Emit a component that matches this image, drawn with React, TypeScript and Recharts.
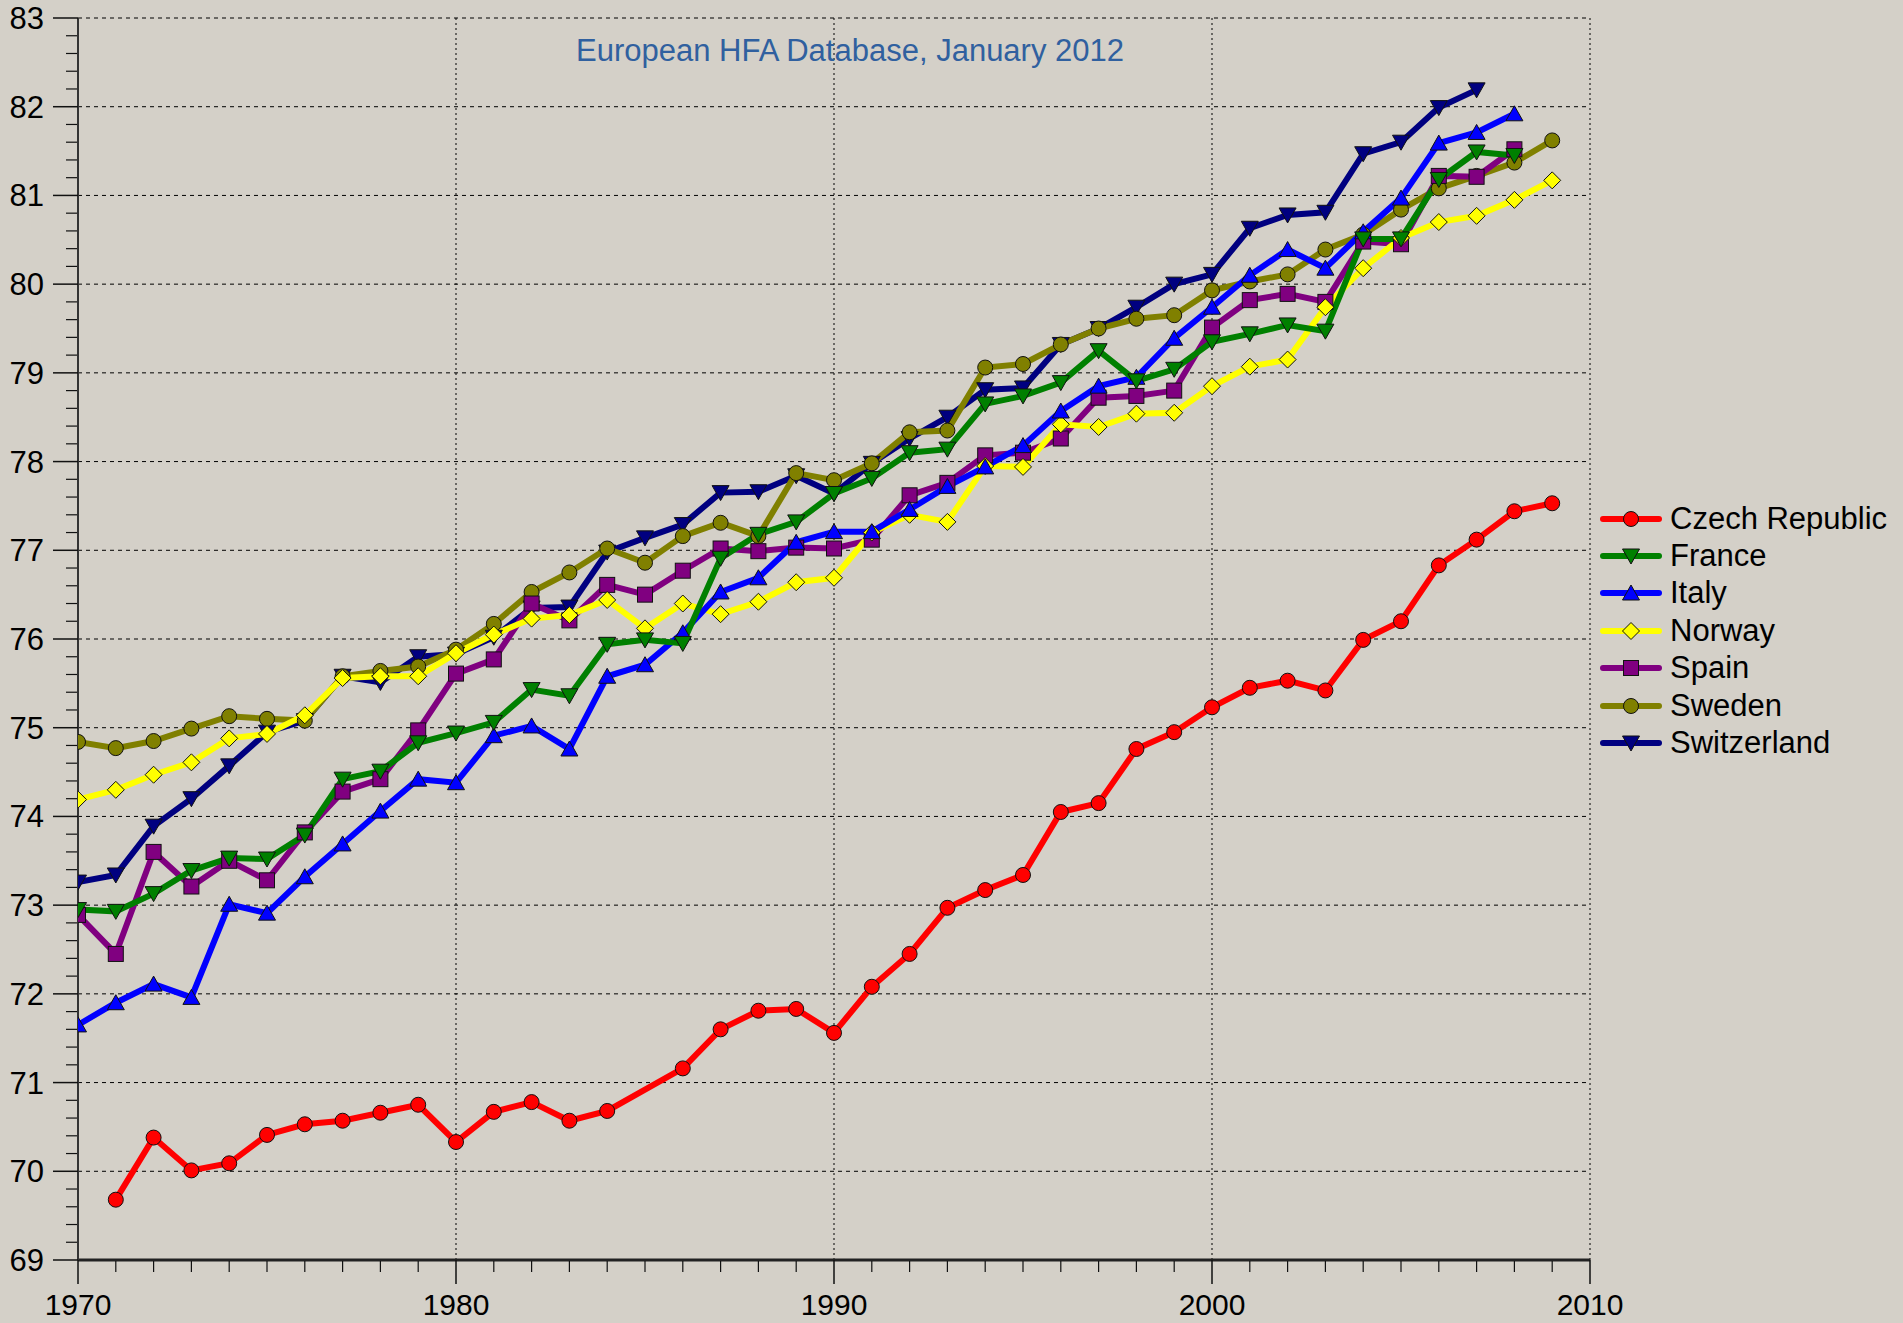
import React from 'react';
import { LineChart, Line, XAxis, YAxis, CartesianGrid } from 'recharts';

const years = [
  1970, 1971, 1972, 1973, 1974, 1975, 1976, 1977, 1978, 1979,
  1980, 1981, 1982, 1983, 1984, 1985, 1986, 1987, 1988, 1989,
  1990, 1991, 1992, 1993, 1994, 1995, 1996, 1997, 1998, 1999,
  2000, 2001, 2002, 2003, 2004, 2005, 2006, 2007, 2008, 2009,
];

const czech = [
  null, 69.68, 70.38, 70.01, 70.09, 70.41, 70.53, 70.57, 70.66, 70.75,
  70.33, 70.67, 70.78, 70.57, 70.68, null, 71.16, 71.6, 71.81, 71.83,
  71.56, 72.08, 72.45, 72.97, 73.17, 73.34, 74.05, 74.15, 74.76, 74.95,
  75.23, 75.45, 75.53, 75.42, 75.99, 76.2, 76.83, 77.12, 77.44, 77.53,
];
const france = [
  72.95, 72.93, 73.13, 73.39, 73.53, 73.52, 73.79, 74.42, 74.51, 74.83,
  74.94, 75.06, 75.43, 75.36, 75.94, 75.99, 75.95, 76.91, 77.18, 77.32,
  77.64, 77.81, 78.1, 78.14, 78.65, 78.74, 78.89, 79.25, 78.91, 79.04,
  79.35, 79.44, 79.54, 79.47, 80.51, 80.51, 81.18, 81.49, 81.45, null,
];
const italy = [
  71.65, 71.9, 72.11, 71.96, 73.01, 72.91, 73.32, 73.69, 74.06, 74.42,
  74.38, 74.91, 75.02, 74.76, 75.58, 75.71, 76.07, 76.53, 76.69, 77.09,
  77.21, 77.21, 77.46, 77.72, 77.94, 78.18, 78.57, 78.85, 78.95, 79.39,
  79.74, 80.1, 80.39, 80.18, 80.59, 80.97, 81.59, 81.71, 81.92, null,
];
const norway = [
  74.19, 74.3, 74.47, 74.61, 74.88, 74.93, 75.14, 75.56, 75.58, 75.58,
  75.84, 76.05, 76.23, 76.27, 76.44, 76.12, 76.4, 76.28, 76.42, 76.64,
  76.69, 77.2, 77.4, 77.32, 77.95, 77.94, 78.42, 78.39, 78.54, 78.55,
  78.85, 79.07, 79.15, 79.74, 80.18, 80.52, 80.7, 80.77, 80.95, 81.17,
];
const spain = [
  72.89, 72.45, 73.6, 73.21, 73.5, 73.28, 73.82, 74.28, 74.42, 74.97,
  75.61, 75.77, 76.4, 76.21, 76.61, 76.5, 76.77, 77.02, 76.99, 77.03,
  77.02, 77.12, 77.62, 77.76, 78.07, 78.1, 78.26, 78.72, 78.74, 78.8,
  79.51, 79.82, 79.89, 79.8, 80.48, 80.45, 81.22, 81.21, 81.52, null,
];
const sweden = [
  74.84, 74.77, 74.85, 74.99, 75.13, 75.1, 75.08, 75.58, 75.64, 75.69,
  75.88, 76.17, 76.53, 76.75, 77.02, 76.86, 77.16, 77.31, 77.16, 77.87,
  77.79, 77.98, 78.33, 78.35, 79.06, 79.1, 79.32, 79.5, 79.61, 79.65,
  79.93, 80.03, 80.11, 80.39, 80.56, 80.84, 81.08, 81.22, 81.37, 81.62,
];
const switzerland = [
  73.26, 73.34, 73.89, 74.2, 74.57, 74.95, 75.08, 75.58, 75.51, 75.8,
  75.83, 76.02, 76.35, 76.36, 76.98, 77.14, 77.29, 77.65, 77.66, 77.84,
  77.64, 77.98, 78.26, 78.5, 78.81, 78.83, 79.32, 79.5, 79.74, 80.0,
  80.11, 80.63, 80.78, 80.81, 81.47, 81.6, 81.99, 82.19, null, null,
];

const xTicks = [1970, 1980, 1990, 2000, 2010];
const yTicks = [69, 70, 71, 72, 73, 74, 75, 76, 77, 78, 79, 80, 81, 82, 83];
const xMinor = years.filter((y) => y % 10 !== 0);
const yMinor = yTicks.slice(0, -1).flatMap((v) => [v + 0.2, v + 0.4, v + 0.6, v + 0.8]);

type Shape = 'circle' | 'down' | 'up' | 'diamond' | 'square';

const series: { key: string; name: string; color: string; shape: Shape; values: (number | null)[] }[] = [
  { key: 'czech', name: 'Czech Republic', color: '#ff0000', shape: 'circle', values: czech },
  { key: 'france', name: 'France', color: '#008000', shape: 'down', values: france },
  { key: 'italy', name: 'Italy', color: '#0000ff', shape: 'up', values: italy },
  { key: 'norway', name: 'Norway', color: '#ffff00', shape: 'diamond', values: norway },
  { key: 'spain', name: 'Spain', color: '#800080', shape: 'square', values: spain },
  { key: 'sweden', name: 'Sweden', color: '#808000', shape: 'circle', values: sweden },
  { key: 'switzerland', name: 'Switzerland', color: '#000080', shape: 'down', values: switzerland },
];

const data = years.map((year, i) => {
  const row: Record<string, number | null> = { year };
  series.forEach((s) => {
    row[s.key] = s.values[i];
  });
  return row;
});

function Marker({ cx, cy, shape, fill }: { cx: number; cy: number; shape: Shape; fill: string }) {
  const st = { fill, stroke: '#111', strokeWidth: 1 };
  switch (shape) {
    case 'circle':
      return <circle cx={cx} cy={cy} r={7.5} {...st} />;
    case 'down':
      return <polygon points={`${cx - 8.5},${cy - 7} ${cx + 8.5},${cy - 7} ${cx},${cy + 8}`} {...st} />;
    case 'up':
      return <polygon points={`${cx - 8.5},${cy + 7} ${cx + 8.5},${cy + 7} ${cx},${cy - 8}`} {...st} />;
    case 'diamond':
      return <polygon points={`${cx},${cy - 8.5} ${cx + 8.5},${cy} ${cx},${cy + 8.5} ${cx - 8.5},${cy}`} {...st} />;
    default:
      return <rect x={cx - 7.5} y={cy - 7.5} width={15} height={15} {...st} />;
  }
}

const font = '"Liberation Sans", Arial, sans-serif';
const blank = () => '';

export default function App() {
  return (
    <div
      style={{
        position: 'absolute',
        left: 0,
        top: 0,
        width: 1903,
        height: 1323,
        background: '#d4d0c8',
        fontFamily: font,
        overflow: 'hidden',
      }}
    >
      <LineChart
        width={1903}
        height={1323}
        data={data}
        margin={{ top: 18, right: 313, bottom: 0, left: 0 }}
      >
        <CartesianGrid horizontal vertical={false} stroke="#000" strokeDasharray="4 4" strokeWidth={1} />
        <CartesianGrid horizontal={false} vertical stroke="#000" strokeDasharray="2 3" strokeWidth={1} />
        {/* major axes sit on the plot edge (size 1), minor tick axes stack outside them */}
        <XAxis
          dataKey="year"
          type="number"
          domain={[1970, 2010]}
          allowDataOverflow
          ticks={xTicks}
          interval={0}
          tickSize={24}
          tickMargin={10}
          height={1}
          axisLine={{ stroke: '#222', strokeWidth: 3 }}
          tickLine={{ stroke: '#111', strokeWidth: 1.5 }}
          tick={{ fill: '#000', fontSize: 30, fontFamily: font }}
        />
        <XAxis
          xAxisId="minor"
          dataKey="year"
          type="number"
          domain={[1970, 2010]}
          allowDataOverflow
          ticks={xMinor}
          interval={0}
          tickFormatter={blank}
          tickSize={11}
          axisLine={false}
          tickLine={{ stroke: '#111', strokeWidth: 1.2 }}
          height={62}
        />
        <YAxis
          type="number"
          domain={[69, 83]}
          allowDataOverflow
          ticks={yTicks}
          interval={0}
          tickSize={25}
          tickMargin={9}
          width={1}
          axisLine={{ stroke: '#333', strokeWidth: 2 }}
          tickLine={{ stroke: '#111', strokeWidth: 1.5 }}
          tick={{ fill: '#000', fontSize: 31, fontFamily: font }}
        />
        <YAxis
          yAxisId="minor"
          type="number"
          domain={[69, 83]}
          allowDataOverflow
          ticks={yMinor}
          interval={0}
          tickFormatter={blank}
          tickSize={11}
          axisLine={false}
          tickLine={{ stroke: '#111', strokeWidth: 1.2 }}
          width={77}
        />
        {[...series].reverse().map((s) => (
          <Line
            key={s.key}
            dataKey={s.key}
            name={s.name}
            xAxisId={s.key === 'czech' ? 'minor' : 0}
            yAxisId={s.key === 'czech' ? 'minor' : 0}
            type="linear"
            stroke={s.color}
            strokeWidth={6}
            connectNulls
            isAnimationActive={false}
            activeDot={false}
            dot={(p: any) =>
              p.cx == null || p.cy == null || p.value == null ? (
                <g key={`${s.key}-${p.index}`} />
              ) : (
                <Marker key={`${s.key}-${p.index}`} cx={p.cx} cy={p.cy} shape={s.shape} fill={s.color} />
              )
            }
          />
        ))}
      </LineChart>

      <div
        style={{
          position: 'absolute',
          left: 450,
          width: 800,
          top: 35,
          textAlign: 'center',
          fontSize: 31,
          lineHeight: '32px',
          color: '#30609f',
        }}
      >
        European HFA Database, January 2012
      </div>

      <div style={{ position: 'absolute', left: 1600, top: 500 }}>
        {series.map((s) => (
          <div key={s.key} style={{ display: 'flex', alignItems: 'center', height: 37.4 }}>
            <svg width={62} height={30} style={{ flex: 'none' }}>
              <line x1={3} y1={15} x2={59} y2={15} stroke={s.color} strokeWidth={6} strokeLinecap="round" />
              <Marker cx={31} cy={15} shape={s.shape} fill={s.color} />
            </svg>
            <span style={{ marginLeft: 8, fontSize: 31, color: '#000', whiteSpace: 'nowrap' }}>{s.name}</span>
          </div>
        ))}
      </div>
    </div>
  );
}
